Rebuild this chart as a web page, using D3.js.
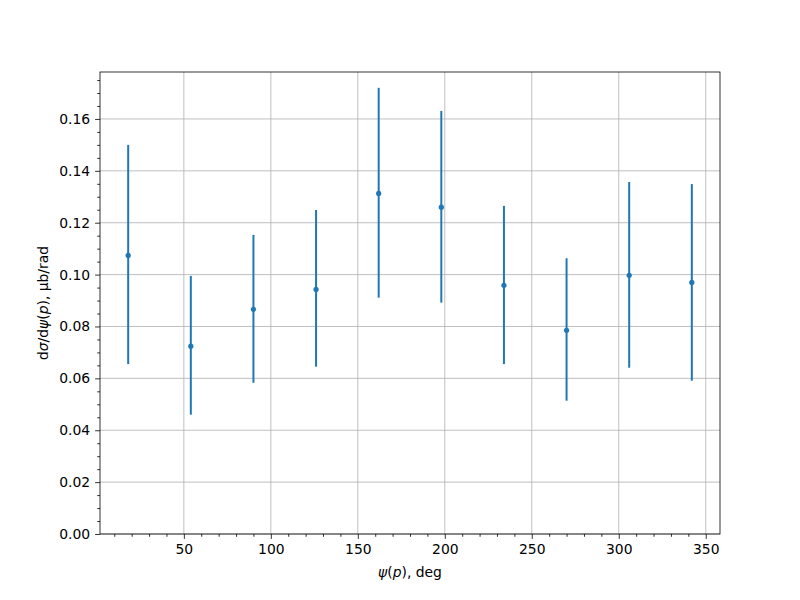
<!DOCTYPE html>
<html><head><meta charset="utf-8">
<script src="https://cdn.jsdelivr.net/npm/d3@7"></script>
<style>body{margin:0;background:#fff}svg{display:block}text{font-family:"DejaVu Sans",sans-serif}</style>
</head><body>
<script>
const angles = [18, 54, 90, 126, 162, 198, 234, 270, 306, 342];
const values = [0.1074, 0.0724, 0.0866, 0.0943, 0.1313, 0.1260, 0.0959, 0.0785, 0.0997, 0.0970];
const lower  = [0.0655, 0.0460, 0.0583, 0.0645, 0.0911, 0.0892, 0.0655, 0.0514, 0.0641, 0.0591];
const upper  = [0.1500, 0.0995, 0.1153, 0.1249, 0.1720, 0.1631, 0.1265, 0.1063, 0.1357, 0.1349];
const xTicks = [50, 100, 150, 200, 250, 300, 350];
const yTicks = [0, 0.02, 0.04, 0.06, 0.08, 0.10, 0.12, 0.14, 0.16];

const W = 800, H = 600;
const m = {l: 100, r: 80, t: 72, b: 66};
const color = "#1f77b4";
const svg = d3.select("body").append("svg").attr("width", W).attr("height", H);
const x = d3.scaleLinear().domain([1.8, 358.2]).range([m.l, W - m.r]);
const y = d3.scaleLinear().domain([0, 0.1781]).range([H - m.b, m.t]);

// grid
const g = svg.append("g");
g.selectAll("line.gx").data(xTicks).join("line")
  .attr("x1", d => x(d)).attr("x2", d => x(d)).attr("y1", m.t).attr("y2", H - m.b)
  .attr("stroke", "#b0b0b0").attr("stroke-width", 0.8);
g.selectAll("line.gy").data(yTicks).join("line")
  .attr("y1", d => y(d)).attr("y2", d => y(d)).attr("x1", m.l).attr("x2", W - m.r)
  .attr("stroke", "#b0b0b0").attr("stroke-width", 0.8);

// axes
const xMinor = d3.range(10, 360, 10).filter(v => v % 50 !== 0);
const yMinor = d3.range(0, 0.178, 0.005).filter(v => Math.abs(v / 0.02 - Math.round(v / 0.02)) > 1e-6);
function styleAxis(sel) {
  sel.select(".domain").remove();
  sel.selectAll("line").attr("stroke", "#000").attr("stroke-width", 0.8);
  sel.selectAll("text").attr("font-size", 13.9).attr("fill", "#000").attr("font-family", "DejaVu Sans");
}
const xa = svg.append("g").attr("transform", `translate(0,${H - m.b})`)
  .call(d3.axisBottom(x).tickValues(xTicks).tickSize(4.9).tickPadding(4.9).tickFormat(d3.format("d")));
styleAxis(xa);
const xm = svg.append("g").attr("transform", `translate(0,${H - m.b})`)
  .call(d3.axisBottom(x).tickValues(xMinor).tickSize(2.8).tickFormat(""));
styleAxis(xm);
const ya = svg.append("g").attr("transform", `translate(${m.l},0)`)
  .call(d3.axisLeft(y).tickValues(yTicks).tickSize(4.9).tickPadding(4.9).tickFormat(d3.format(".2f")));
styleAxis(ya);
const ym = svg.append("g").attr("transform", `translate(${m.l},0)`)
  .call(d3.axisLeft(y).tickValues(yMinor).tickSize(2.8).tickFormat(""));
styleAxis(ym);

// error bars
const data = angles.map((a, i) => ({a, v: values[i], lo: lower[i], hi: upper[i]}));
svg.append("g").selectAll("line").data(data).join("line")
  .attr("x1", d => x(d.a)).attr("x2", d => x(d.a))
  .attr("y1", d => y(d.lo)).attr("y2", d => y(d.hi))
  .attr("stroke", color).attr("stroke-width", 2);
svg.append("g").selectAll("circle").data(data).join("circle")
  .attr("cx", d => x(d.a)).attr("cy", d => y(d.v)).attr("r", 2.6).attr("fill", color);

// frame
svg.append("rect").attr("x", m.l).attr("y", m.t).attr("width", W - m.l - m.r).attr("height", H - m.t - m.b)
  .attr("fill", "none").attr("stroke", "#000").attr("stroke-width", 0.8);

// labels
const xl = svg.append("text").attr("x", (m.l + W - m.r) / 2).attr("y", 577).attr("text-anchor", "middle").attr("font-size", 13.9);
xl.append("tspan").attr("font-style", "italic").text("ψ");
xl.append("tspan").text("(");
xl.append("tspan").attr("font-style", "italic").text("p");
xl.append("tspan").text("), deg");

const yl = svg.append("text").attr("transform", `translate(48,${(m.t + H - m.b) / 2}) rotate(-90)`).attr("text-anchor", "middle").attr("font-size", 13.9);
yl.append("tspan").text("d");
yl.append("tspan").attr("font-style", "italic").text("σ");
yl.append("tspan").text("/d");
yl.append("tspan").attr("font-style", "italic").text("ψ");
yl.append("tspan").text("(");
yl.append("tspan").attr("font-style", "italic").text("p");
yl.append("tspan").text("), μb/rad");
</script>
</body></html>
